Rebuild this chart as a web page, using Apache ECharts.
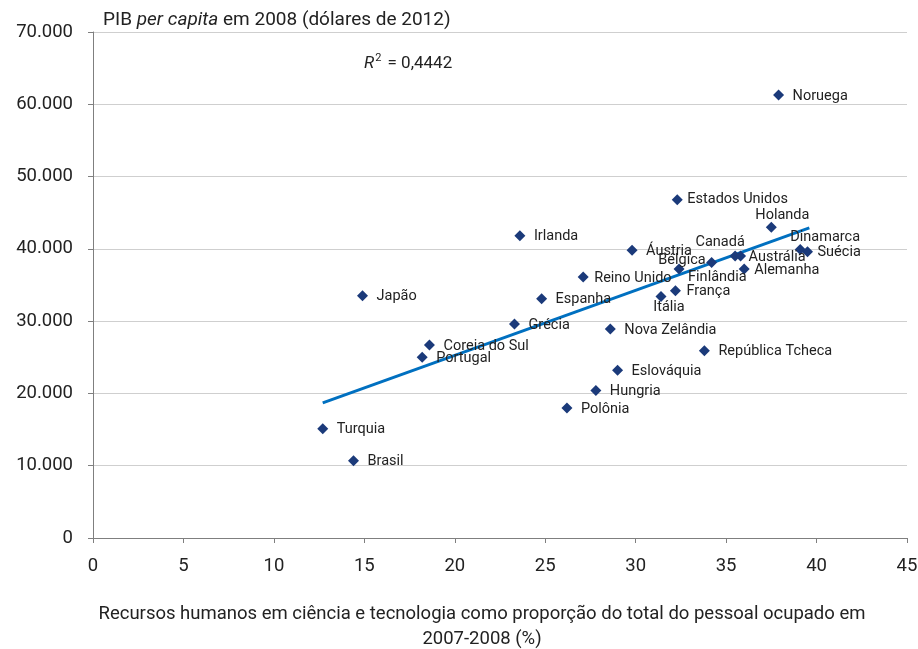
<!DOCTYPE html>
<html>
<head>
<meta charset="utf-8">
<script src="https://cdn.jsdelivr.net/npm/echarts@6/dist/echarts.min.js"></script>
<style>
html,body{margin:0;padding:0;background:#fff;}
#chart{width:918px;height:649px;}
</style>
</head>
<body>
<div id="chart"></div>
<script>
// ---- Data ----
const countries = ['Noruega','Estados Unidos','Holanda','Dinamarca','Suécia','Canadá','Austrália','Bélgica','Finlândia','Alemanha','França','Itália','Áustria','Reino Unido','Irlanda','Japão','Espanha','Grécia','Coreia do Sul','Portugal','Nova Zelândia','República Tcheca','Eslováquia','Hungria','Polônia','Turquia','Brasil'];
const hrstShare = [37.9,32.3,37.5,39.1,39.5,35.5,35.8,34.2,32.4,36.0,32.2,31.4,29.8,27.1,23.6,14.9,24.8,23.3,18.6,18.2,28.6,33.8,29.0,27.8,26.2,12.7,14.4];
const gdpPerCapita = [61300,46800,43000,39900,39600,39000,39000,38100,37200,37200,34200,33400,39800,36100,41800,33500,33100,29600,26700,25000,28900,25900,23200,20400,18000,15100,10700];
const trendX = [12.7, 39.6];
const trendY = [18700, 42900];
const xTicks = [0,5,10,15,20,25,30,35,40,45];
const yTicks = [0,10000,20000,30000,40000,50000,60000,70000];
const r2Text = '0,4442';

// ---- Label placement (style) ----
const defaultLabel = {dx: 14, dy: 1, align: 'left'};
const labelLayout = {
  'Estados Unidos': {dx: 10, dy: 0, align: 'left'},
  'Holanda': {dx: 11, dy: -12, align: 'center'},
  'Dinamarca': {dx: -10, dy: -12, align: 'left'},
  'Suécia': {dx: 10, dy: 1, align: 'left'},
  'Canadá': {dx: -15, dy: -14, align: 'center'},
  'Austrália': {dx: 8, dy: 1, align: 'left'},
  'Alemanha': {dx: 10, dy: 1, align: 'left'},
  'Bélgica': {dx: -6, dy: -2, align: 'right'},
  'Finlândia': {dx: 9, dy: 8, align: 'left'},
  'França': {dx: 11, dy: 1, align: 'left'},
  'Itália': {dx: 8, dy: 11, align: 'center'},
  'Reino Unido': {dx: 11, dy: 1, align: 'left'}
};

const FONT = 'Roboto, "Noto Sans", sans-serif';

const scatterData = countries.map((c, i) => {
  const l = labelLayout[c] || defaultLabel;
  return {
    name: c,
    value: [hrstShare[i], gdpPerCapita[i]],
    label: {
      show: true,
      position: 'inside',
      align: l.align,
      verticalAlign: 'middle',
      offset: [l.dx, l.dy],
      formatter: c
    }
  };
});

const fmtThousands = v => String(v).replace(/\B(?=(\d{3})+(?!\d))/g, '.');

const chart = echarts.init(document.getElementById('chart'));
chart.setOption({
  animation: false,
  backgroundColor: '#fff',
  textStyle: {fontFamily: FONT},
  title: {
    left: 98, top: 6,
    text: '{n|PIB }{i|per capita}{n| em 2008 (dólares de 2012)}',
    textStyle: {
      fontWeight: 'normal',
      rich: {
        n: {fontSize: 19, color: '#222', fontWeight: 'normal', fontFamily: FONT},
        i: {fontSize: 19, color: '#222', fontWeight: 'normal', fontStyle: 'italic', fontFamily: FONT}
      }
    }
  },
  grid: {left: 93, right: 11, top: 32, bottom: 111, containLabel: false, outerBoundsMode: 'none'},
  xAxis: {
    type: 'value',
    min: xTicks[0], max: xTicks[xTicks.length - 1], interval: 5,
    axisLine: {show: true, lineStyle: {color: '#7f7f7f', width: 1}},
    axisTick: {show: true, length: 5, lineStyle: {color: '#7f7f7f'}},
    splitLine: {show: false},
    axisLabel: {fontSize: 18.5, color: '#222', margin: 19, fontFamily: FONT},
    name: 'Recursos humanos em ciência e tecnologia como proporção do total do pessoal ocupado em\n2007-2008 (%)',
    nameLocation: 'middle',
    nameGap: 64,
    nameTextStyle: {fontSize: 18.5, color: '#222', lineHeight: 25, fontFamily: FONT, padding: [0, 36, 0, 0]}
  },
  yAxis: {
    type: 'value',
    min: yTicks[0], max: yTicks[yTicks.length - 1], interval: 10000,
    axisLine: {show: true, lineStyle: {color: '#7f7f7f', width: 1}},
    axisTick: {show: true, length: 5, lineStyle: {color: '#7f7f7f'}},
    splitLine: {show: true, lineStyle: {color: '#cfcfcf', width: 1}},
    axisLabel: {fontSize: 18.5, color: '#222', margin: 20, fontFamily: FONT, formatter: fmtThousands}
  },
  series: [
    {
      type: 'line',
      data: trendX.map((x, i) => [x, trendY[i]]),
      showSymbol: false,
      symbol: 'none',
      lineStyle: {color: '#0070c0', width: 3},
      silent: true,
      z: 2
    },
    {
      type: 'scatter',
      data: scatterData,
      symbol: 'diamond',
      symbolSize: [11, 11],
      itemStyle: {color: '#1b3a7a', opacity: 1},
      label: {fontSize: 14.5, color: '#222', fontFamily: FONT},
      z: 3
    }
  ],
  graphic: [
    {
      type: 'text', left: 364, top: 53,
      style: {
        text: '{r|R}{s|2}{t| = ' + r2Text + '}',
        rich: {
          r: {fontSize: 17, fontStyle: 'italic', fill: '#222', fontFamily: FONT, verticalAlign: 'bottom'},
          s: {fontSize: 11, fill: '#222', fontFamily: FONT, verticalAlign: 'top', padding: [0, 2, 8, 1]},
          t: {fontSize: 17, fill: '#222', fontFamily: FONT, verticalAlign: 'bottom'}
        }
      }
    }
  ]
});
</script>
</body>
</html>
